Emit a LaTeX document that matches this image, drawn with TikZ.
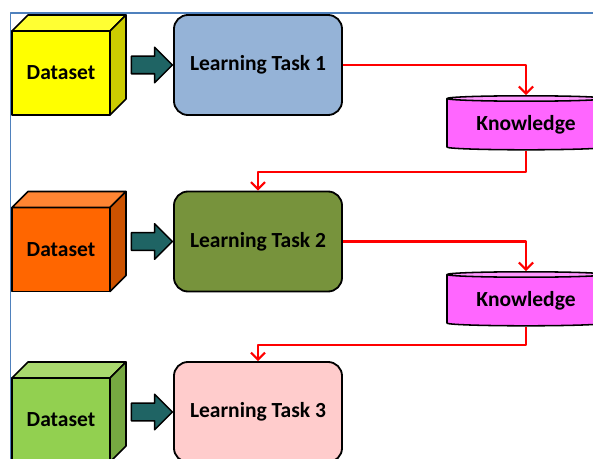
\documentclass[tikz,border=0pt]{standalone}
\usepackage{fontspec}
\setmainfont{Carlito}
\usetikzlibrary{shapes.geometric,shapes.arrows,arrows.meta}
\definecolor{frameblue}{HTML}{4F81BD}
\definecolor{dsA}{HTML}{FFFF00} \definecolor{dsAtop}{HTML}{FFFF33} \definecolor{dsAside}{HTML}{CCCC00}
\definecolor{dsB}{HTML}{FF6600} \definecolor{dsBtop}{HTML}{FF8533} \definecolor{dsBside}{HTML}{CC5200}
\definecolor{dsC}{HTML}{92D050} \definecolor{dsCtop}{HTML}{A9D86E} \definecolor{dsCside}{HTML}{76A841}
\definecolor{taskA}{HTML}{95B3D7} \definecolor{taskB}{HTML}{77933C} \definecolor{taskC}{HTML}{FFCCCC}
\definecolor{knowbody}{HTML}{FF66FF} \definecolor{knowtop}{HTML}{FF99FF}
\definecolor{feedteal}{HTML}{1F6464}
\begin{document}
\begin{tikzpicture}[x=0.025cm, y=-0.025cm, font=\fontsize{15.3}{18}\selectfont\bfseries, line join=round,
  >={Straight Barb[length=5pt,width=10pt]},
  cubeface/.style={draw, line width=1.1pt, minimum width=2.45cm, minimum height=2.1cm, inner sep=0, outer sep=0},
  task/.style={draw, rounded corners=0.35cm, line width=1.3pt, minimum width=4.2cm, minimum height=2.5cm},
  knowl/.style={cylinder, shape border rotate=90, aspect=0.05, draw, line width=1.1pt,
    cylinder uses custom fill, cylinder body fill=knowbody, cylinder end fill=knowtop,
    minimum width=3.95cm, minimum height=1.35cm},
  feed/.style={single arrow, draw, line width=1.1pt, fill=feedteal, inner xsep=0, inner ysep=0.2cm,
    minimum height=1.025cm, minimum width=0.85cm, single arrow head extend=0.225cm},
  link/.style={red, line width=1.5pt, ->}]
\def\depth{16}
\useasboundingbox (0,0) rectangle (593,459);
\draw[frameblue, line width=0.9pt] (10.5,459) -- (10.5,13) -- (593,13);
% dataset cubes, feed arrows and tasks
\foreach \i/\y/\c in {1/65/A, 2/241.5/B, 3/412/C}{
  \node[cubeface, fill=ds\c] (d\i) at (61,\y+8) {Dataset};
  \filldraw[fill=ds\c top, line width=1.1pt] (d\i.north west) -- ++(\depth,-\depth) -- ++(98,0) -- (d\i.north east) -- cycle;
  \filldraw[fill=ds\c side, line width=1.1pt] (d\i.north east) -- ++(\depth,-\depth) -- ++(0,84) -- (d\i.south east) -- cycle;
  \node[feed] (f\i) at (147.5,\y) {};
  \node[task, fill=task\c] (t\i) at (258,\y) {Learning Task \i};
}
\node[knowl] (k1) at (526,125) {Knowledge};
\node[knowl] (k2) at (526,301) {Knowledge};
\draw[link] (t1.east) -| (k1.north);
\draw[link] (k1.south) -- ++(0,21) -| (t2.north);
\draw[link] (t2.east) -| (k2.north);
\draw[link] (k2.south) -- ++(0,18) -| (t3.north);
\end{tikzpicture}
\end{document}
